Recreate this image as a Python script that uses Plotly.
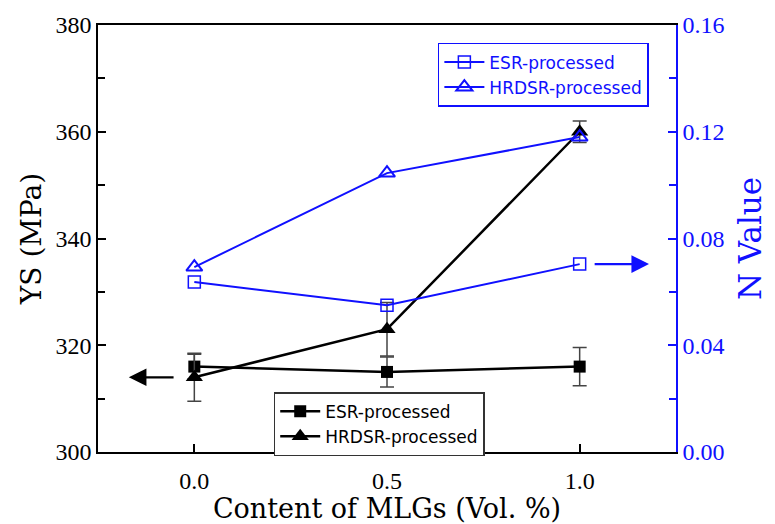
import plotly.graph_objects as go

# MLG content (Vol. %)
content = [0.0, 0.5, 1.0]

# Yield strength (MPa) with error bars
ys_esr = [316, 315, 316]
ys_esr_err = [2.3, 2.8, 3.6]
ys_hrdsr = [314, 323, 360]
ys_hrdsr_err = [4.5, 5.0, 2.0]

# Strain-hardening exponent (N value)
n_esr = [0.0637, 0.0550, 0.0704]
n_hrdsr = [0.0693, 0.1045, 0.1180]

BLUE = "#1010ff"
SERIF = "Liberation Serif, DejaVu Serif, serif"
WIDE_SERIF = "DejaVu Serif, Liberation Serif, serif"
SANS = "DejaVu Sans, Verdana, sans-serif"

fig = go.Figure()

fig.add_trace(go.Scatter(
    x=content, y=ys_esr, name="ESR-processed", mode="lines+markers",
    line=dict(color="black", width=2.5),
    marker=dict(symbol="square", size=12, color="black"),
    error_y=dict(type="data", array=ys_esr_err, color="#444444", thickness=1.5, width=7),
    legend="legend",
))
fig.add_trace(go.Scatter(
    x=content, y=ys_hrdsr, name="HRDSR-processed", mode="lines+markers",
    line=dict(color="black", width=2.5),
    marker=dict(symbol="triangle-up", size=15, color="black"),
    error_y=dict(type="data", array=ys_hrdsr_err, color="#444444", thickness=1.5, width=7),
    legend="legend",
))
fig.add_trace(go.Scatter(
    x=content, y=n_esr, name="ESR-processed", mode="lines+markers", yaxis="y2",
    line=dict(color=BLUE, width=2),
    marker=dict(symbol="square-open", size=12, color=BLUE, line=dict(width=1.5)),
    legend="legend2",
))
fig.add_trace(go.Scatter(
    x=content, y=n_hrdsr, name="HRDSR-processed", mode="lines+markers", yaxis="y2",
    line=dict(color=BLUE, width=2),
    marker=dict(symbol="triangle-up-open", size=14, color=BLUE, line=dict(width=2)),
    legend="legend2",
))

# Arrows pointing each curve pair to its axis
fig.add_annotation(
    x=-0.17, y=314, ax=-0.05, ay=314, xref="x", yref="y", axref="x", ayref="y",
    text="", showarrow=True, arrowhead=2, arrowsize=1.6, arrowwidth=2.2, arrowcolor="black",
)
fig.add_annotation(
    x=1.18, y=0.0704, ax=1.035, ay=0.0704, xref="x", yref="y2", axref="x", ayref="y2",
    text="", showarrow=True, arrowhead=2, arrowsize=1.6, arrowwidth=2.2, arrowcolor=BLUE,
)

fig.update_layout(
    width=775, height=524,
    margin=dict(l=98, r=99, t=25, b=72),
    plot_bgcolor="white", paper_bgcolor="white",
    font=dict(family=SERIF, size=24, color="black"),
    xaxis=dict(
        range=[-0.25, 1.25], tickvals=content, ticktext=["0.0", "0.5", "1.0"],
        ticks="inside", ticklen=8, tickwidth=1.5, tickcolor="black",
        minor=dict(tickvals=[0.25, 0.75], ticks="inside", ticklen=7, tickwidth=1.5, tickcolor="black"),
        showline=True, linecolor="black", linewidth=1.5, mirror=True,
        showgrid=False, zeroline=False, automargin=False,
        tickfont=dict(family=SERIF, size=24), ticklabelstandoff=6,
        title=dict(text="Content of MLGs (Vol. %)", font=dict(family=WIDE_SERIF, size=27), standoff=9),
    ),
    yaxis=dict(
        range=[300, 380], dtick=20,
        ticks="inside", ticklen=8, tickwidth=1.5, tickcolor="black",
        minor=dict(dtick=10, ticks="inside", ticklen=7, tickwidth=1.5, tickcolor="black"),
        showline=True, linecolor="black", linewidth=1.5,
        showgrid=False, zeroline=False, automargin=False,
        tickfont=dict(family=SERIF, size=24),
        title=dict(text="YS (MPa)", font=dict(family=WIDE_SERIF, size=28), standoff=6),
    ),
    yaxis2=dict(
        overlaying="y", side="right", anchor="x",
        range=[0, 0.16], dtick=0.04, tickformat=".2f",
        ticks="inside", ticklen=8, tickwidth=1.5, tickcolor=BLUE,
        minor=dict(dtick=0.02, ticks="inside", ticklen=7, tickwidth=1.5, tickcolor=BLUE),
        showline=True, linecolor=BLUE, linewidth=1.5,
        showgrid=False, zeroline=False, automargin=False,
        tickfont=dict(family=SERIF, size=24, color=BLUE),
        title=dict(text="N Value", font=dict(family=WIDE_SERIF, size=31, color=BLUE), standoff=16),
    ),
    legend=dict(
        x=0.304, y=0.14, xanchor="left", yanchor="top",
        bgcolor="white", bordercolor="#333333", borderwidth=1.5,
        font=dict(family=SANS, size=17, color="black"),
        itemwidth=40, tracegroupgap=0,
    ),
    legend2=dict(
        x=0.588, y=0.958, xanchor="left", yanchor="top",
        bgcolor="white", bordercolor=BLUE, borderwidth=1.5,
        font=dict(family=SANS, size=17, color=BLUE),
        itemwidth=40, tracegroupgap=0,
    ),
    showlegend=True,
)

fig.write_html("out.html")
